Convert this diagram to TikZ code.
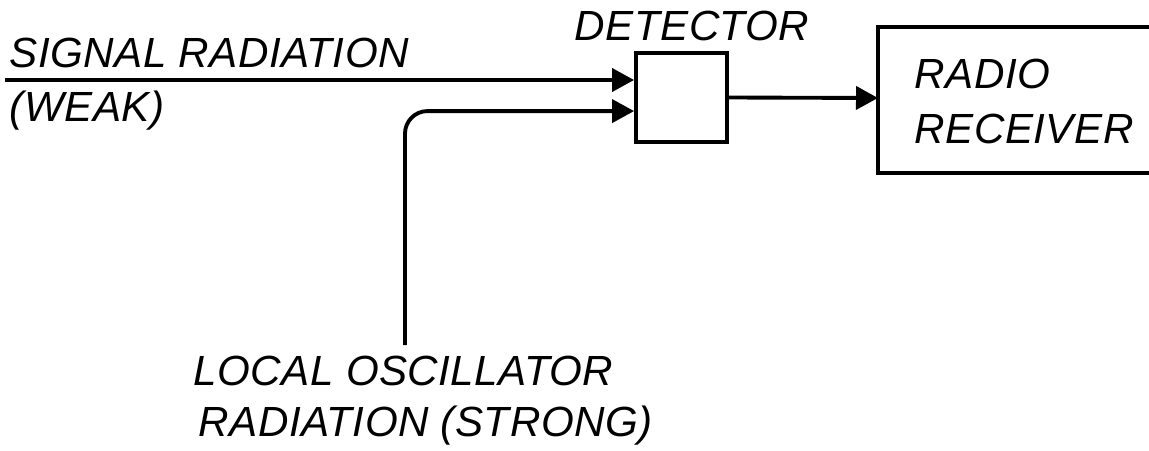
\documentclass[tikz,border=0pt]{standalone}
\usepackage{fontspec}
\setsansfont[LetterSpace=1]{Liberation Sans}
\usetikzlibrary{arrows.meta,positioning}

\tikzset{
  lettering/.style={font=\fontsize{24}{28}\selectfont\sffamily\itshape, inner sep=0pt, anchor=base west},
  block/.style={draw, line width=2.2pt, inner sep=0pt},
}

\begin{document}
\begin{tikzpicture}[->, >={Triangle[length=4.4mm,width=4.6mm]}, line width=2.2pt]
\path[use as bounding box] (0,0) rectangle (22.98,-9);
\clip (0,0) rectangle (22.98,-9);
% blocks
\node[block, minimum width=18.2mm, minimum height=17.8mm] (det) at (13.63,-1.95) {};
\draw[-] (24,-0.54) -| (17.56,-3.46) -- (24,-3.46);
\coordinate (rcv) at (17.56,-1.96);
% labels
\node[lettering] (detlbl) at (11.46,-0.8) {DETECTOR};
\node[lettering] (rcv1) at (18.26,-1.76) {RADIO};
\node[lettering] (rcv2) at (18.26,-2.86) {RECEIVER};
\node[lettering] (sig1) at (0.16,-1.34) {SIGNAL RADIATION};
\node[lettering] (sig2) at (0.16,-2.42) {(WEAK)};
\node[lettering] (lo1) at (3.84,-7.7) {LOCAL OSCILLATOR};
\node[lettering] (lo2) at (3.94,-8.72) {RADIATION (STRONG)};
% connectors
\coordinate (sigstart) at (0.1,-1.6);
\coordinate (lostart) at (8.1,-6.9);
\draw (sigstart) -- (sigstart -| det.west);
\draw[rounded corners=4.5mm] (lostart) |- ([yshift=-12mm]det.north west);
\draw (det.east) -- (rcv);
\end{tikzpicture}
\end{document}
